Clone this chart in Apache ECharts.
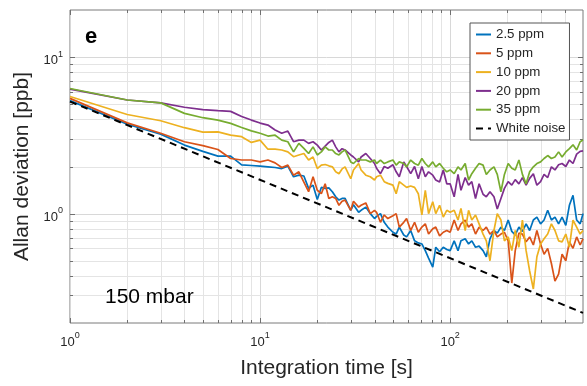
<!DOCTYPE html>
<html><head><meta charset="utf-8">
<script src="https://cdn.jsdelivr.net/npm/echarts@6/dist/echarts.min.js"></script>
<style>html,body{margin:0;padding:0;background:#fff}#c{width:587px;height:386px}</style>
</head><body><div id="c"></div>
<script>
// Integration time [s]
const tau = [1,2,3,4,5,6,7,8,9,10,11,12,13,14,15,16,17,18,19,20,21,22,23,24,25,
  26,27,28,30,31,33,34,36,38,40,
  41,43,45,47,50,52,54,57,59,62,
  65,68,71,74,77,81,84,88,92,96,
  100,105,110,114,120,125,130,136,142,149,
  155,162,170,177,185,193,202,211,220,230,
  240,251,262,274,286,299,312,326,341,356,
  372,388,406,424,443,463,483,500];

const ppm2p5 = [5.27,3.73,3.22,2.74,2.50,2.33,2.33,2.05,2.03,2.01,
  1.99,1.97,1.94,2.01,1.72,1.76,1.74,1.45,1.52,1.23,
  1.47,1.45,1.46,1.38,1.28,
  1.22,1.25,1.25,1.05,1.14,1.02,1.05,1.10,1.00,0.93,
  0.96,1.00,0.88,0.82,0.76,0.74,0.82,0.73,0.71,0.78,
  0.67,0.65,0.64,0.58,0.52,0.455,0.61,0.57,0.61,0.59,
  0.58,0.67,0.58,0.67,0.69,0.64,0.67,0.61,0.62,0.58,
  0.53,0.69,0.78,0.75,0.82,0.78,0.91,0.77,0.73,0.82,
  0.77,0.86,0.78,0.91,0.95,0.86,0.91,1.05,0.91,0.95,
  0.86,0.95,0.84,1.13,1.31,0.91,0.86,1.00];

const ppm5 = [5.45,3.80,3.26,2.88,2.72,2.57,2.25,2.20,2.20,2.14,
  2.20,2.11,1.97,2.04,1.76,1.85,1.59,1.38,1.72,1.41,
  1.34,1.55,1.25,1.28,1.25,
  1.13,1.20,1.22,1.05,1.20,1.10,1.13,1.17,1.00,1.05,
  1.02,0.88,0.98,0.93,0.97,1.00,0.82,0.88,0.93,0.78,
  0.88,0.76,0.82,0.86,0.74,0.80,0.82,0.72,0.76,0.78,
  0.76,0.91,0.78,0.86,0.91,0.82,0.86,0.74,0.82,0.78,
  0.82,0.74,0.78,0.71,0.74,0.76,0.67,0.36,0.58,0.75,
  0.74,0.66,0.71,0.63,0.78,0.64,0.55,0.60,0.48,0.37,
  0.41,0.55,0.50,0.66,0.60,0.71,0.63,0.69];

const ppm10 = [5.60,4.30,3.92,3.54,3.32,3.33,3.17,3.10,2.85,2.95,
  2.58,2.58,2.55,2.48,2.31,2.37,2.42,2.20,2.30,1.94,
  2.04,2.06,2.02,1.99,1.85,
  1.80,1.93,1.99,1.67,1.90,2.09,1.90,1.76,1.72,1.64,
  1.72,1.76,1.60,1.56,1.52,1.34,1.60,1.52,1.47,1.50,
  1.47,1.34,0.98,1.41,1.00,1.19,1.00,1.13,0.95,1.05,
  1.02,1.05,0.91,1.08,0.78,1.05,0.91,0.98,0.86,0.74,
  0.67,0.50,0.78,1.00,0.91,0.67,0.71,0.58,0.78,0.61,
  0.91,0.58,0.43,0.33,0.53,0.64,0.69,0.74,0.86,0.78,
  0.67,0.66,0.74,0.61,0.91,0.82,0.74,0.78];

const ppm20 = [6.25,5.32,5.10,4.78,4.62,4.55,4.50,4.17,3.96,3.79,
  3.68,3.42,3.26,3.37,2.88,2.95,2.95,2.81,2.88,2.74,
  2.55,2.70,2.85,2.95,2.67,
  2.48,2.60,2.55,2.37,2.30,2.14,2.30,2.42,2.25,2.09,
  1.95,1.80,2.00,1.95,2.05,1.85,1.72,2.14,2.00,1.80,
  2.00,1.67,2.00,1.72,1.85,1.76,1.64,1.59,1.90,1.55,
  1.55,1.28,1.78,1.41,1.70,1.52,1.60,1.25,1.55,1.33,
  1.28,1.38,1.28,1.07,1.25,1.45,1.60,1.52,1.65,1.55,
  1.70,1.52,1.68,1.80,1.52,1.60,1.78,1.70,1.99,1.90,
  2.05,2.09,2.00,2.20,2.09,2.40,2.50,2.52];

const ppm35 = [6.30,5.32,5.10,4.37,4.10,3.96,3.77,3.55,3.38,3.26,
  3.13,3.17,2.95,2.88,2.48,2.81,2.61,2.42,2.67,2.37,
  2.48,2.67,2.55,2.55,2.42,
  2.37,2.48,2.55,2.14,2.09,2.25,2.20,2.20,2.14,2.20,
  2.09,2.20,2.09,2.14,2.20,2.04,2.14,2.09,1.99,2.20,
  2.09,2.04,2.25,2.09,1.99,2.14,1.99,2.09,1.95,1.85,
  1.90,1.80,1.99,1.90,2.09,1.64,1.80,1.95,2.09,2.04,
  1.78,1.90,1.99,1.78,1.38,1.78,2.09,1.95,1.90,2.20,
  1.78,1.55,1.85,1.99,2.09,2.14,2.25,2.35,2.25,2.30,
  2.48,2.30,2.48,2.60,2.75,2.55,2.88,2.95];

const whiteNoiseX = [1, 500];
const whiteNoiseY = [5.2, 0.232];

const seriesNames = ['2.5 ppm', '5 ppm', '10 ppm', '20 ppm', '35 ppm', 'White noise'];
const seriesColors = ['#0072BD', '#D95319', '#EDB120', '#7E2F8E', '#77AC30', '#000000'];

const xMajorTicks = [1, 10, 100];
const xMinorTicks = [2,3,4,5,6,7,8,9,20,30,40,50,60,70,80,90,200,300,400];
const yMajorTicks = [1, 10];
const yMinorTicks = [0.3,0.4,0.5,0.6,0.7,0.8,0.9,2,3,4,5,6,7,8,9];

const FONT = '"Liberation Sans", Arial, Helvetica, sans-serif';
const TXT = '#262626';

function pow10Label(v) {
  const e = Math.round(Math.log10(v));
  if (Math.abs(v - Math.pow(10, e)) > 1e-6 * Math.pow(10, e)) return '';
  return '{b|10}{s|' + e + '}';
}
const labelRich = {
  b: { fontSize: 13, fontFamily: FONT, color: TXT, lineHeight: 22 },
  s: { fontSize: 9, fontFamily: FONT, color: TXT, lineHeight: 10, verticalAlign: 'top' }
};

const gridItems = [];
xMajorTicks.forEach(v => gridItems.push([v, 1, 0, 1]));
xMinorTicks.forEach(v => gridItems.push([v, 1, 0, 0]));
yMajorTicks.forEach(v => gridItems.push([1, v, 1, 1]));
yMinorTicks.forEach(v => gridItems.push([1, v, 1, 0]));

function renderGrid(params, api) {
  const cs = params.coordSys;
  const kind = api.value(2), major = api.value(3);
  const tl = major ? 5 : 3;
  const gs = major ? '#d8d8d8' : '#e4e4e4';
  const ts = '#707070';
  if (kind === 0) {
    const px = Math.round(api.coord([api.value(0), 1])[0]) + 0.5;
    const y0 = cs.y, y1 = cs.y + cs.height;
    return { type: 'group', children: [
      { type: 'line', shape: { x1: px, y1: y0, x2: px, y2: y1 }, style: { stroke: gs, lineWidth: 1 } },
      { type: 'line', shape: { x1: px, y1: y1, x2: px, y2: y1 - tl }, style: { stroke: ts, lineWidth: 1 } },
      { type: 'line', shape: { x1: px, y1: y0, x2: px, y2: y0 + tl }, style: { stroke: ts, lineWidth: 1 } }
    ]};
  } else {
    const py = Math.round(api.coord([1, api.value(1)])[1]) + 0.5;
    const x0 = cs.x, x1 = cs.x + cs.width;
    return { type: 'group', children: [
      { type: 'line', shape: { x1: x0, y1: py, x2: x1, y2: py }, style: { stroke: gs, lineWidth: 1 } },
      { type: 'line', shape: { x1: x0, y1: py, x2: x0 + tl, y2: py }, style: { stroke: ts, lineWidth: 1 } },
      { type: 'line', shape: { x1: x1, y1: py, x2: x1 - tl, y2: py }, style: { stroke: ts, lineWidth: 1 } }
    ]};
  }
}

const dataSets = [ppm2p5, ppm5, ppm10, ppm20, ppm35];
const lineSeries = dataSets.map((arr, i) => ({
  name: seriesNames[i],
  type: 'line',
  data: tau.map((t, k) => [t, arr[k]]),
  symbol: 'none',
  showSymbol: false,
  z: 3,
  lineStyle: { color: seriesColors[i], width: 1.7 },
  itemStyle: { color: seriesColors[i] },
  emphasis: { disabled: true },
  animation: false
}));
lineSeries.push({
  name: seriesNames[5],
  type: 'line',
  data: whiteNoiseX.map((t, k) => [t, whiteNoiseY[k]]),
  symbol: 'none',
  showSymbol: false,
  z: 4,
  lineStyle: { color: '#000', width: 2, type: [7, 5] },
  itemStyle: { color: '#000' },
  emphasis: { disabled: true },
  animation: false
});

const chart = echarts.init(document.getElementById('c'), null, { renderer: 'canvas' });
chart.setOption({
  animation: false,
  backgroundColor: '#ffffff',
  grid: { left: 70, right: 4, top: 10, bottom: 63, show: true, borderColor: '#7a7a7a', borderWidth: 1,
          backgroundColor: 'rgba(0,0,0,0)', containLabel: false, outerBoundsMode: 'none' },
  xAxis: {
    type: 'log', logBase: 10, min: 1, max: 500,
    name: 'Integration time [s]', nameLocation: 'middle', nameGap: 35,
    nameTextStyle: { fontSize: 21, fontFamily: FONT, color: TXT },
    axisLine: { show: false }, axisTick: { show: false }, splitLine: { show: false },
    axisLabel: { formatter: pow10Label, rich: labelRich, margin: 8, showMaxLabel: false, hideOverlap: false }
  },
  yAxis: {
    type: 'log', logBase: 10, min: 0.2, max: 20,
    name: 'Allan deviation [ppb]', nameLocation: 'middle', nameGap: 35,
    nameTextStyle: { fontSize: 21, fontFamily: FONT, color: TXT },
    axisLine: { show: false }, axisTick: { show: false }, splitLine: { show: false },
    axisLabel: { formatter: pow10Label, rich: labelRich, margin: 7, padding: [7, 0, 0, 0],
                 showMaxLabel: false, showMinLabel: false, hideOverlap: false }
  },
  legend: {
    orient: 'vertical', left: 470, top: 23,
    itemWidth: 15, itemHeight: 14, itemGap: 5.8,
    padding: [5, 4, 5, 5],
    backgroundColor: '#ffffff', borderColor: '#555555', borderWidth: 1, borderRadius: 0,
    textStyle: { fontSize: 13.3, fontFamily: FONT, color: TXT },
    itemStyle: { opacity: 0, borderWidth: 0 },
    lineStyle: { width: 2 },
    data: seriesNames,
    selectedMode: false
  },
  graphic: [
    { type: 'text', z: 10, style: { text: 'e', x: 85, y: 36.5, textAlign: 'left', textVerticalAlign: 'middle',
      font: 'bold 22px ' + FONT, fill: '#000' } },
    { type: 'text', z: 10, style: { text: '150 mbar', x: 105, y: 297.7, textAlign: 'left', textVerticalAlign: 'middle',
      font: '21px ' + FONT, fill: '#000' } }
  ],
  tooltip: { show: false },
  series: [{
    type: 'custom', name: 'gridlines', silent: true, z: 1,
    renderItem: renderGrid, data: gridItems, animation: false
  }].concat(lineSeries)
});
</script>
</body></html>
